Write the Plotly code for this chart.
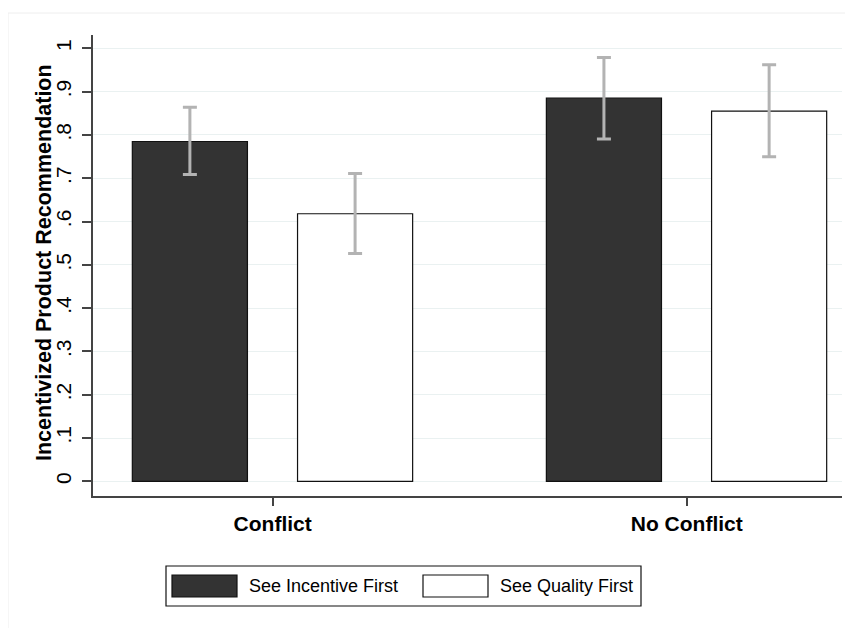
import plotly.graph_objects as go

categories = ["Conflict", "No Conflict"]
series_names = ["See Incentive First", "See Quality First"]
y_title = "Incentivized Product Recommendation"
incentive_mean = [0.785, 0.885]
incentive_lo = [0.709, 0.791]
incentive_hi = [0.864, 0.979]
quality_mean = [0.618, 0.855]
quality_lo = [0.526, 0.750]
quality_hi = [0.711, 0.962]
ytick_vals = [0, 0.1, 0.2, 0.3, 0.4, 0.5, 0.6, 0.7, 0.8, 0.9, 1.0]
ytick_text = ["0", ".1", ".2", ".3", ".4", ".5", ".6", ".7", ".8", ".9", "1"]

OFF = 8  # default body margin of the html page
W, H = 845, 620
L, R, T, B = 85, 11, 27, 132
FONT = "Liberation Sans, Arial, Helvetica, sans-serif"
ERR_COLOR = "#b3b3b3"

def px(sx):
    return (sx - OFF - L) / (W - L - R)

def py(sy):
    return (H - B - (sy - OFF)) / (H - T - B)

fig = go.Figure()
bar_w = 0.278
fig.add_trace(go.Bar(
    x=categories, y=incentive_mean, name=series_names[0],
    width=bar_w, offset=-0.339,
    marker=dict(color="#333333", line=dict(color="#111111", width=1.2)),
    error_y=dict(type="data", symmetric=False,
                 array=[h - m for h, m in zip(incentive_hi, incentive_mean)],
                 arrayminus=[m - l for l, m in zip(incentive_lo, incentive_mean)],
                 color=ERR_COLOR, thickness=3, width=7),
    showlegend=False,
))
fig.add_trace(go.Bar(
    x=categories, y=quality_mean, name=series_names[1],
    width=bar_w, offset=0.060,
    marker=dict(color="#ffffff", line=dict(color="#111111", width=1.2)),
    error_y=dict(type="data", symmetric=False,
                 array=[h - m for h, m in zip(quality_hi, quality_mean)],
                 arrayminus=[m - l for l, m in zip(quality_lo, quality_mean)],
                 color=ERR_COLOR, thickness=3, width=7),
    showlegend=False,
))

shapes = []
annotations = []
# outer frame
shapes.append(dict(type="rect", xref="paper", yref="paper",
                   x0=px(8), x1=px(870), y0=py(13), y1=py(650),
                   line=dict(color="#eeeeee", width=1), fillcolor="rgba(0,0,0,0)", layer="below"))
# legend box
shapes.append(dict(type="rect", xref="paper", yref="paper",
                   x0=px(166), x1=px(641), y0=py(566), y1=py(606),
                   line=dict(color="#111111", width=1.2), fillcolor="#ffffff"))
swatches = [("#333333", 172, 237, 247), ("#ffffff", 423, 488, 498)]
for name, (col, x0, x1, tx) in zip(series_names, swatches):
    shapes.append(dict(type="rect", xref="paper", yref="paper",
                       x0=px(x0), x1=px(x1), y0=py(575), y1=py(597),
                       line=dict(color="#111111", width=1.2), fillcolor=col))
    annotations.append(dict(text=name, xref="paper", yref="paper",
                            x=px(tx), y=py(586), xanchor="left", yanchor="middle",
                            showarrow=False, font=dict(family=FONT, size=18, color="#000000")))
# y-axis title
annotations.append(dict(text="<b>%s</b>" % y_title, xref="paper", yref="paper",
                        x=px(44), y=py(263), xanchor="center", yanchor="middle",
                        textangle=-90, showarrow=False,
                        font=dict(family=FONT, size=21.5, color="#000000")))

fig.update_layout(
    width=W, height=H,
    margin=dict(l=L, r=R, t=T, b=B),
    paper_bgcolor="#ffffff", plot_bgcolor="#ffffff",
    barmode="group",
    shapes=shapes, annotations=annotations,
    xaxis=dict(range=[-0.434, 1.375], showgrid=False, zeroline=False,
               showline=True, linecolor="#444444", linewidth=1.5,
               ticks="outside", ticklen=8, tickwidth=1.5, tickcolor="#444444",
               tickfont=dict(family=FONT, size=21, color="#000000"),
               ticktext=["<b>%s</b>" % c for c in categories], tickvals=categories,
               tickmode="array"),
    yaxis=dict(range=[-0.034, 1.031], tickvals=ytick_vals, ticktext=ytick_text,
               tickangle=-90, showgrid=True, gridcolor="#eaf1f1", gridwidth=1.2,
               zeroline=False, showline=True, linecolor="#444444", linewidth=1.5,
               ticks="outside", ticklen=9, tickwidth=1.5, tickcolor="#444444",
               ticklabelstandoff=3,
               tickfont=dict(family=FONT, size=21, color="#000000")),
)

fig.write_html("out.html")
